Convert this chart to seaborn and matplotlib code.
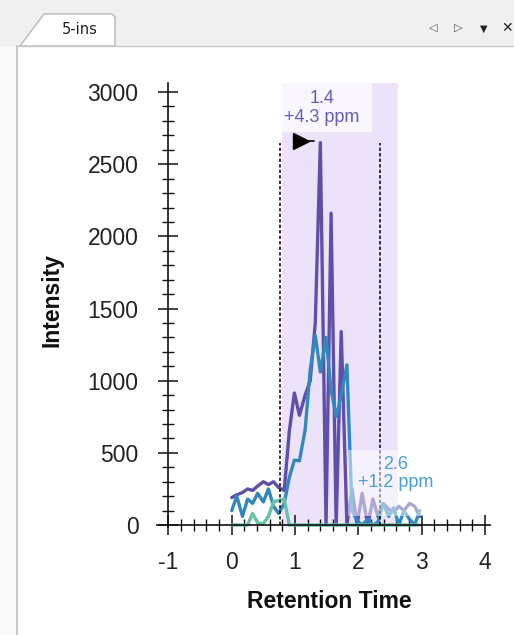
import numpy as np
import pandas as pd
import matplotlib
matplotlib.use("Agg")
import matplotlib.pyplot as plt
from matplotlib.patches import Rectangle, Polygon
from matplotlib.ticker import MultipleLocator
import seaborn as sns

# ---------------- data ----------------
times = [0.00, 0.08, 0.17, 0.25, 0.33, 0.41, 0.50, 0.58, 0.66, 0.74, 0.83, 0.91,
         0.99, 1.07, 1.16, 1.24, 1.32, 1.40, 1.49, 1.57, 1.65, 1.73, 1.82, 1.90,
         1.98, 2.06, 2.15, 2.23, 2.31, 2.39, 2.48, 2.56, 2.64, 2.72, 2.81, 2.89, 2.97]
purple_vals = [190, 210, 225, 250, 240, 270, 300, 280, 300, 260, 240, 650,
               915, 760, 900, 1000, 1400, 2650, 0, 2160, 0, 1340, 0, 250,
               0, 220, 0, 180, 60, 150, 110, 90, 130, 100, 150, 130, 60]
blue_vals = [100, 200, 60, 180, 150, 220, 160, 250, 130, 80, 150, 330,
             450, 445, 660, 1075, 1315, 1060, 1300, 935, 750, 900, 1110, 100,
             30, 0, 40, 0, 20, 150, 60, 120, 0, 100, 40, 0, 100]
green_vals = [0, 0, 0, 0, 80, 15, 10, 60, 160, 170, 180, 0,
              0, 0, 0, 0, 0, 0, 0, 0, 0, 0, 0, 0,
              0, 0, 0, 0, 0, 0, 0, 0, 0, 0, 0, 0, 0]
series_names = ["precursor", "precursor [M+1]", "precursor [M+2]"]
series_colors = ["#5e4fa8", "#3288bd", "#66c2a5"]

x_ticks = [-1, 0, 1, 2, 3, 4]
y_ticks = [0, 500, 1000, 1500, 2000, 2500, 3000]

peak1_label = "1.4\n+4.3 ppm"
peak2_label = "2.6\n+1.2 ppm"
shade_range = (0.79, 2.62)
boundary_lines = (0.77, 2.34)
boundary_top = 2650

df = pd.concat([
    pd.DataFrame({"Retention Time": times, "Intensity": v, "series": n})
    for v, n in zip([purple_vals, blue_vals, green_vals], series_names)
])

# ---------------- figure ----------------
sns.set_theme(style="white")
plt.rcParams["font.family"] = ["Liberation Sans", "DejaVu Sans"]

W, H = 514, 635
fig = plt.figure(figsize=(W / 100, H / 100), dpi=100)
fig.patch.set_facecolor("white")

def px(x0, y0, w, h):
    return (x0 / W, 1 - (y0 + h) / H, w / W, h / H)

# window chrome
bx = px(0, 0, W, 46)
fig.patches.append(Rectangle(bx[:2], bx[2], bx[3], transform=fig.transFigure,
                             facecolor="#f0f0f0", edgecolor="none", zorder=0))
lx = px(0, 46, 15, H - 46)
fig.patches.append(Rectangle(lx[:2], lx[2], lx[3], transform=fig.transFigure,
                             facecolor="#f9f9f9", edgecolor="none", zorder=0))
fig.add_artist(plt.Line2D([16.5 / W, 16.5 / W], [0, 1 - 46 / H], transform=fig.transFigure,
                          color="#c8c8c8", lw=1.5))
fig.add_artist(plt.Line2D([16.5 / W, 1], [1 - 45.5 / H, 1 - 45.5 / H], transform=fig.transFigure,
                          color="#c8c8c8", lw=1))
tab = [(20, 46), (44, 14), (112, 14), (115, 17), (115, 46)]
fig.patches.append(Polygon([(a / W, 1 - b / H) for a, b in tab], closed=True,
                           transform=fig.transFigure, facecolor="white",
                           edgecolor="#b8b8b8", lw=1, zorder=1))
fig.text(80 / W, 1 - 30 / H, "5-ins", ha="center", va="center", fontsize=10.5,
         family=["DejaVu Sans"], color="#222222")
fig.text(433 / W, 1 - 28 / H, "◁", ha="center", va="center", fontsize=8, color="#555555",
         family=["DejaVu Sans"])
fig.text(458 / W, 1 - 28 / H, "▷", ha="center", va="center", fontsize=8, color="#555555",
         family=["DejaVu Sans"])
fig.text(484 / W, 1 - 29 / H, "▼", ha="center", va="center", fontsize=7, color="#222222",
         family=["DejaVu Sans"])
fig.text(507 / W, 1 - 28 / H, "✕", ha="center", va="center", fontsize=10, color="#222222",
         family=["DejaVu Sans"])

# axes (pixel box: left 157, right 490, top 83.4, bottom 527.2)
AX_L, AX_R, AX_T, AX_B = 157, 490, 83.4, 527.2
ax = fig.add_axes((AX_L / W, 1 - AX_B / H, (AX_R - AX_L) / W, (AX_B - AX_T) / H))
ax.set_facecolor("none")
ax.set_xlim(-1.18, 4.08)
ax.set_ylim(-15, 3060)

ax.axvspan(*shade_range, color="#ece3fb", zorder=0, lw=0)
ax.add_patch(Rectangle((shade_range[0], 2720), 2.21 - shade_range[0], 3060 - 2720,
                       facecolor="#f9f6fe", edgecolor="none", zorder=0.5))

sns.lineplot(data=df, x="Retention Time", y="Intensity", hue="series",
             palette=series_colors, linewidth=2.4, legend=False, ax=ax, zorder=2,
             estimator=None, sort=False)

for xb in boundary_lines:
    ax.plot([xb, xb], [0, boundary_top], color="black", lw=1.1,
            dashes=(2.2, 1.4), zorder=3)

# flag marker
ax.plot([1.06, 1.30], [2660, 2660], color="black", lw=1.2, zorder=4)
ax.plot([1.10], [2660], marker=">", markersize=11, color="black", zorder=4)

ax.text(1.42, 2890, peak1_label, ha="center", va="center", fontsize=13,
        color="#6a5cb0", linespacing=1.15, zorder=5)

ax.add_patch(Rectangle((1.83, 60), 3.35 - 1.83, 520 - 60, facecolor="white",
                       alpha=0.5, edgecolor="none", zorder=4))
ax.text(2.59, 357, peak2_label, ha="center", va="center", fontsize=13,
        color="#4a9fd6", linespacing=1.15, zorder=5)

# axis styling
for s in ["top", "right"]:
    ax.spines[s].set_visible(False)
ax.spines["left"].set_position(("data", -1))
ax.spines["bottom"].set_position(("data", 0))
ax.spines["left"].set_bounds(-15, 3060)
for s in ["left", "bottom"]:
    ax.spines[s].set_color("#111111")
    ax.spines[s].set_linewidth(1.2)

ax.set_xticks(x_ticks)
ax.set_yticks(y_ticks)
ax.xaxis.set_minor_locator(MultipleLocator(0.2))
ax.yaxis.set_minor_locator(MultipleLocator(100))
ax.tick_params(which="major", direction="inout", length=14, width=1.1, color="#111111",
               labelsize=16.5, labelcolor="#222222", bottom=True, left=True)
ax.tick_params(which="minor", direction="inout", length=8, width=1.0, color="#111111",
               bottom=True, left=True)
ax.tick_params(axis="x", which="major", pad=12)
ax.tick_params(axis="y", which="major", pad=14.5)
ax.set_xticklabels([str(t) for t in x_ticks])
ax.set_yticklabels([str(t) for t in y_ticks])

ax.set_xlabel("Retention Time", fontsize=16.5, fontweight="bold", color="#111111")
ax.set_ylabel("Intensity", fontsize=16.5, fontweight="bold", color="#111111")
ax.xaxis.set_label_coords((329 - AX_L) / (AX_R - AX_L), (AX_B - 602) / (AX_B - AX_T))
ax.yaxis.set_label_coords((52 - AX_L) / (AX_R - AX_L), (AX_B - 300) / (AX_B - AX_T))
ax.xaxis.label.set_va("center")
ax.yaxis.label.set_va("center")

fig.savefig("out.png", dpi=100)
